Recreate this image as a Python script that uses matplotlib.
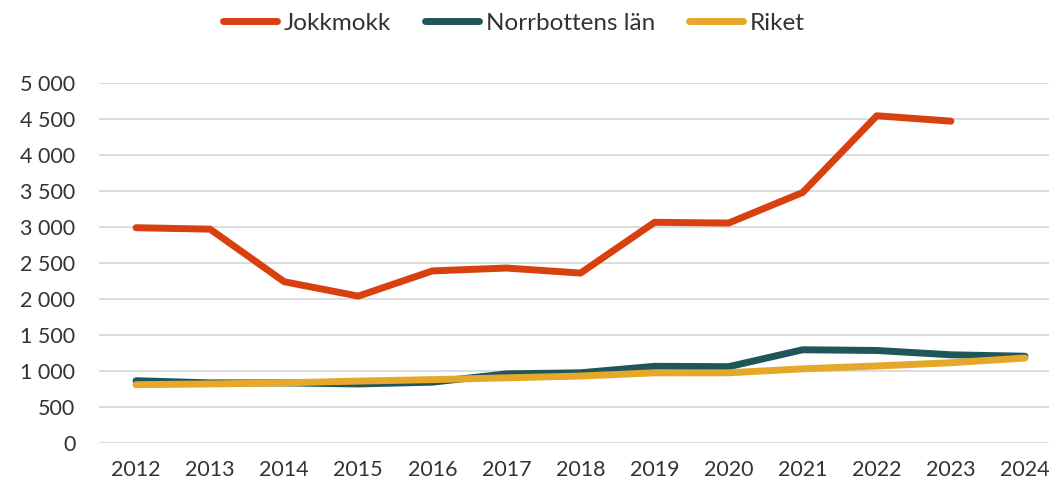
import matplotlib
matplotlib.use("Agg")
import matplotlib.pyplot as plt
from matplotlib.ticker import FuncFormatter

# %% Daten
years = [2012, 2013, 2014, 2015, 2016, 2017, 2018, 2019, 2020, 2021, 2022, 2023, 2024]
jokkmokk = [2990, 2970, 2240, 2040, 2390, 2430, 2360, 3065, 3055, 3480, 4545, 4470, None]
norrbotten = [865, 835, 835, 820, 845, 960, 975, 1065, 1060, 1295, 1285, 1225, 1205]
riket = [810, 820, 835, 860, 880, 905, 930, 975, 975, 1030, 1070, 1115, 1180]

series_names = ["Jokkmokk", "Norrbottens län", "Riket"]
colors = ["#D9400F", "#1F5659", "#E5A82A"]

# %% Plot
plt.rcParams["font.family"] = ["Lato", "DejaVu Sans"]

fig = plt.figure(figsize=(10.49, 4.84), dpi=100)
ax = fig.add_axes([99 / 1049, 41 / 484, 963 / 1049, 360 / 484])

xpos = list(range(len(years)))
for name, vals, col in zip(series_names, [jokkmokk, norrbotten, riket], colors):
    xs = [x for x, v in zip(xpos, vals) if v is not None]
    ys = [v for v in vals if v is not None]
    ax.plot(xs, ys, color=col, lw=5, label=name, solid_capstyle="round",
            solid_joinstyle="round")

ax.set_xlim(-0.5, len(years) - 0.5)
ax.set_ylim(0, 5000)
ax.set_yticks(range(0, 5001, 500))
ax.yaxis.set_major_formatter(FuncFormatter(lambda v, p: f"{int(v):,}".replace(",", " ")))
ax.set_xticks(xpos)
ax.set_xticklabels([str(y) for y in years])
ax.grid(axis="y", color="#D9D9D9", lw=1.3)
ax.set_axisbelow(True)
for s in ax.spines.values():
    s.set_visible(False)
ax.tick_params(length=0, labelsize=15.5, colors="#333333")
ax.tick_params(axis="y", pad=17)
ax.tick_params(axis="x", pad=12)

leg = fig.legend(loc="center", bbox_to_anchor=(0.49, 0.952), ncol=3, frameon=False,
                 fontsize=17.5, handlelength=2.2, handletextpad=0.3, columnspacing=1.4)
for t in leg.get_texts():
    t.set_color("#333333")
for h in leg.get_lines():
    h.set_linewidth(5)
    h.set_solid_capstyle("round")

fig.savefig("out.png", dpi=100)
